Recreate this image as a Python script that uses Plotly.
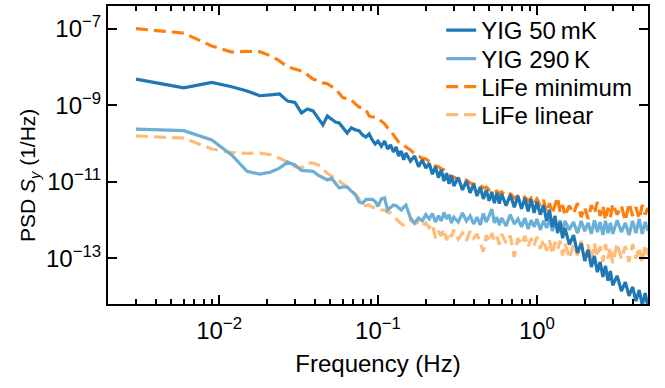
import plotly.graph_objects as go

freq = [0.003, 0.006, 0.009, 0.012, 0.015, 0.018, 0.021, 0.024, 0.027, 0.030,
        0.033, 0.036, 0.039, 0.042, 0.045, 0.048, 0.051, 0.054, 0.057, 0.060,
        0.064, 0.068, 0.072, 0.076, 0.080, 0.084, 0.088, 0.092, 0.096, 0.100,
        0.105, 0.110, 0.115, 0.120, 0.125, 0.130, 0.135, 0.140, 0.145, 0.150,
        0.16, 0.17, 0.18, 0.19, 0.20, 0.21, 0.22, 0.23, 0.24, 0.25, 0.26, 0.27, 0.28, 0.29, 0.30,
        0.32, 0.34, 0.36, 0.38, 0.40, 0.42, 0.44, 0.46, 0.48, 0.50, 0.52, 0.54, 0.56, 0.58, 0.60,
        0.64, 0.68, 0.72, 0.76, 0.80, 0.84, 0.88, 0.92, 0.96, 1.00,
        1.05, 1.10, 1.15, 1.20, 1.25, 1.30, 1.35, 1.40, 1.45, 1.50,
        1.6, 1.7, 1.8, 1.9, 2.0, 2.1, 2.2, 2.3, 2.4, 2.5, 2.6, 2.7, 2.8, 2.9, 3.0,
        3.2, 3.4, 3.6, 3.8, 4.0, 4.2, 4.4, 4.6, 4.8, 5.0]

yig_50mk = [4.9e-9, 2.9e-9, 4.0e-9, 3.1e-9, 2.4e-9, 1.8e-9, 1.9e-9, 2.0e-9, 1.3e-9, 1.2e-9,
            6.4e-10, 8.1e-10, 7.2e-10, 4.7e-10, 3.1e-10, 5.3e-10, 4.4e-10, 3.7e-10, 3.5e-10, 2.6e-10,
            1.9e-10, 2.6e-10, 2.3e-10, 2.2e-10, 1.7e-10, 1.5e-10, 1.8e-10, 1.25e-10, 9.8e-11, 1.18e-10,
            8.6e-11, 1.18e-10, 7.3e-11, 9.3e-11, 6.1e-11, 8.2e-11, 4.8e-11, 6.5e-11, 3.8e-11, 5.7e-11,
            3.5e-11, 4.8e-11, 2.5e-11, 3.8e-11, 2.3e-11, 3.1e-11, 1.6e-11, 2.5e-11, 1.3e-11, 2.1e-11,
            1.06e-11, 1.7e-11, 8.9e-12, 1.5e-11, 7.9e-12, 1.3e-11, 6.2e-12, 1.06e-11, 5.2e-12, 8.9e-12,
            4.3e-12, 7.4e-12, 3.6e-12, 6.2e-12, 3.2e-12, 5.5e-12, 2.8e-12, 5.2e-12, 2.7e-12, 4.9e-12,
            2.4e-12, 4.6e-12, 2.2e-12, 4.3e-12, 2.0e-12, 3.8e-12, 1.7e-12, 3.6e-12, 1.55e-12, 3.0e-12,
            1.4e-12, 2.5e-12, 9.6e-13, 1.85e-12, 6.7e-13, 1.3e-12, 4.6e-13, 9.0e-13, 3.4e-13, 6.3e-13,
            2.3e-13, 4.1e-13, 1.4e-13, 2.5e-13, 8.6e-14, 1.7e-13, 6.0e-14, 1.16e-13, 4.4e-14, 8.1e-14,
            3.3e-14, 6.4e-14, 2.6e-14, 4.7e-14, 2.0e-14, 3.5e-14, 1.4e-14, 2.4e-14, 1.05e-14, 1.8e-14,
            7.7e-15, 1.5e-14, 6.1e-15, 1.25e-14, 5.1e-15]

yig_290k = [2.4e-10, 2.2e-10, 1.25e-10, 5.1e-11, 1.9e-11, 1.6e-11, 1.8e-11, 2.3e-11, 3.3e-11, 2.8e-11,
            2.0e-11, 1.9e-11, 1.9e-11, 1.5e-11, 1.3e-11, 1.13e-11, 1.25e-11, 9.4e-12, 7.0e-12, 7.4e-12,
            7.4e-12, 5.8e-12, 4.6e-12, 3.0e-12, 2.8e-12, 3.5e-12, 3.5e-12, 3.5e-12, 3.1e-12, 2.3e-12,
            3.6e-12, 3.8e-12, 1.85e-12, 2.2e-12, 2.5e-12, 2.4e-12, 2.1e-12, 1.85e-12, 2.2e-12, 2.5e-12,
            1.14e-12, 8.5e-13, 1.14e-12, 9.6e-13, 1.4e-12, 1.08e-12, 1.5e-12, 9.0e-13, 1.3e-12, 9.6e-13,
            1.6e-12, 1.08e-12, 1.4e-12, 8.5e-13, 1.2e-12, 9.0e-13, 1.55e-12, 9.6e-13, 1.3e-12, 8.0e-13,
            1.2e-12, 7.5e-13, 1.5e-12, 9.0e-13, 1.3e-12, 1.97e-12, 8.5e-13, 1.2e-12, 7.5e-13, 1.14e-12,
            7.1e-13, 1.4e-12, 8.0e-13, 1.08e-12, 6.7e-13, 1.14e-12, 5.9e-13, 1.0e-12, 6.7e-13, 1.08e-12,
            5.6e-13, 9.6e-13, 6.3e-13, 1.08e-12, 5.2e-13, 9.0e-13, 5.9e-13, 1.0e-12, 4.9e-13, 9.6e-13,
            5.6e-13, 9.0e-13, 4.6e-13, 9.6e-13, 5.2e-13, 8.5e-13, 4.4e-13, 1.0e-12, 4.9e-13, 9.0e-13,
            4.1e-13, 9.6e-13, 4.6e-13, 8.5e-13, 4.4e-13, 1.0e-12, 4.9e-13, 8.5e-13, 4.1e-13, 9.6e-13,
            4.6e-13, 1.08e-12, 4.4e-13, 9.0e-13, 5.2e-13]

life_min = [1.02e-7, 7.8e-8, 3.6e-8, 2.5e-8, 2.6e-8, 2.55e-8, 2.0e-8, 1.46e-8, 1.02e-8, 9.0e-9,
            8.0e-9, 6.3e-9, 4.9e-9, 4.4e-9, 3.9e-9, 3.7e-9, 3.2e-9, 2.7e-9, 2.1e-9, 1.6e-9,
            1.5e-9, 1.4e-9, 1.1e-9, 9.1e-10, 8.6e-10, 7.6e-10, 5.3e-10, 5.0e-10, 5.0e-10, 4.7e-10,
            3.9e-10, 3.3e-10, 2.6e-10, 2.2e-10, 1.7e-10, 1.3e-10, 1.1e-10, 9.8e-11, 9.3e-11, 8.2e-11,
            6.9e-11, 5.4e-11, 4.8e-11, 4.2e-11, 4.0e-11, 3.5e-11, 3.0e-11, 2.6e-11, 2.5e-11, 2.2e-11,
            2.1e-11, 1.8e-11, 1.5e-11, 1.35e-11, 1.35e-11, 1.13e-11, 1.06e-11, 1.13e-11, 9.4e-12, 8.9e-12,
            7.9e-12, 8.3e-12, 7.0e-12, 7.4e-12, 6.2e-12, 6.6e-12, 5.5e-12, 5.8e-12, 4.9e-12, 5.5e-12,
            4.3e-12, 4.9e-12, 3.8e-12, 4.3e-12, 3.6e-12, 4.05e-12, 3.2e-12, 3.8e-12, 2.8e-12, 3.6e-12,
            2.4e-12, 3.4e-12, 1.6e-12, 2.8e-12, 1.5e-12, 2.7e-12, 4.0e-12, 1.55e-12, 2.5e-12, 1.3e-12,
            2.4e-12, 1.5e-12, 2.8e-12, 1.2e-12, 2.2e-12, 1.08e-12, 2.5e-12, 1.5e-12, 3.0e-12, 1.3e-12,
            2.4e-12, 1.0e-12, 2.1e-12, 1.2e-12, 2.7e-12, 1.4e-12, 2.4e-12, 9.6e-13, 2.8e-12, 1.3e-12,
            2.2e-12, 1.08e-12, 2.5e-12, 1.4e-12, 2.1e-12]

life_lin = [1.6e-10, 1.4e-10, 7.3e-11, 5.9e-11, 5.6e-11, 5.7e-11, 5.2e-11, 4.2e-11, 3.3e-11, 2.5e-11,
            2.3e-11, 3.1e-11, 3.1e-11, 2.8e-11, 2.1e-11, 1.7e-11, 1.4e-11, 1.3e-11, 1.06e-11, 8.9e-12,
            7.4e-12, 5.8e-12, 4.9e-12, 3.6e-12, 2.5e-12, 2.4e-12, 2.5e-12, 2.2e-12, 2.1e-12, 2.1e-12,
            1.85e-12, 1.85e-12, 1.6e-12, 1.55e-12, 1.3e-12, 1.08e-12, 9.6e-13, 8.0e-13, 7.5e-13, 9.0e-13,
            1.0e-12, 8.0e-13, 9.0e-13, 7.1e-13, 8.5e-13, 6.3e-13, 8.0e-13, 3.4e-13, 5.2e-13, 3.9e-13,
            5.9e-13, 3.0e-13, 4.9e-13, 3.7e-13, 5.6e-13, 3.2e-13, 4.6e-13, 2.9e-13, 5.2e-13, 3.4e-13,
            4.4e-13, 2.4e-13, 1.5e-13, 4.1e-13, 2.7e-13, 4.6e-13, 3.0e-13, 3.9e-13, 2.3e-13, 4.4e-13,
            2.5e-13, 3.9e-13, 1.1e-13, 3.4e-13, 2.3e-13, 3.9e-13, 2.0e-13, 3.4e-13, 2.1e-13, 3.7e-13,
            1.8e-13, 3.2e-13, 1.6e-13, 3.0e-13, 1.3e-13, 2.7e-13, 1.7e-13, 2.9e-13, 1.2e-13, 2.5e-13,
            1.0e-13, 2.4e-13, 1.2e-13, 2.9e-13, 9.7e-14, 2.3e-13, 8.6e-14, 2.5e-13, 1.1e-13, 2.1e-13,
            8.1e-14, 2.4e-13, 1.0e-13, 2.0e-13, 7.6e-14, 2.5e-13, 9.7e-14, 2.1e-13, 8.1e-14, 2.4e-13,
            1.0e-13, 2.0e-13, 7.6e-14, 2.3e-13, 1.2e-13]

x_major = [0.01, 0.1, 1]
x_major_text = ["10<sup>\u22122</sup>", "10<sup>\u22121</sup>", "10<sup>0</sup>"]
x_minor = [0.002, 0.003, 0.004, 0.005, 0.006, 0.007, 0.008, 0.009,
           0.02, 0.03, 0.04, 0.05, 0.06, 0.07, 0.08, 0.09,
           0.2, 0.3, 0.4, 0.5, 0.6, 0.7, 0.8, 0.9, 2, 3, 4, 5]
y_major = [1e-7, 1e-9, 1e-11, 1e-13]
y_major_text = ["10<sup>\u22127</sup>", "10<sup>\u22129</sup>", "10<sup>\u221211</sup>", "10<sup>\u221213</sup>"]

FONT = "Liberation Sans, Arial, sans-serif"
FS = 24

fig = go.Figure()
# (name, values, colour, dash, legend id, legend centre y in paper units)
series = [
    ("LiFe minimum", life_min, "#ff7f0e", "12px,6px", "legend3", 0.728),
    ("LiFe linear", life_lin, "#ffbb78", "12px,6px", "legend4", 0.634),
    ("YIG 290\u2009K", yig_290k, "#6baed6", "solid", "legend2", 0.822),
    ("YIG 50\u2009mK", yig_50mk, "#1f77b4", "solid", "legend", 0.918),
]
legends = {}
for name, vals, col, dash, leg, ly in series:
    fig.add_trace(go.Scatter(x=freq, y=vals, mode="lines", name=name, legend=leg,
                             line=dict(color=col, width=3.2, dash=dash)))
    legends[leg] = dict(x=0.617, y=ly, xanchor="left", yanchor="middle",
                        bgcolor="rgba(0,0,0,0)", borderwidth=0, itemwidth=30,
                        font=dict(family=FONT, size=FS, color="black"))

axis_common = dict(showline=True, linecolor="black", linewidth=2, mirror="ticks",
                   ticks="inside", ticklen=9, tickwidth=2, tickcolor="black",
                   showgrid=False, zeroline=False,
                   tickfont=dict(family=FONT, size=FS, color="black"))

fig.update_xaxes(type="log", range=[-2.69897, 0.69897], tickmode="array",
                 tickvals=x_major, ticktext=x_major_text, ticklabelstandoff=4,
                 minor=dict(tickmode="array", tickvals=x_minor, ticks="inside",
                            ticklen=5, tickwidth=1.5, tickcolor="black", showgrid=False),
                 title=dict(text="Frequency (Hz)", font=dict(family=FONT, size=FS, color="black"),
                            standoff=12),
                 **axis_common)
fig.update_yaxes(type="log", range=[-14.19, -6.399], tickmode="array",
                 tickvals=y_major, ticktext=y_major_text,
                 **axis_common)

fig.add_annotation(text="PSD <i>S<sub>y</sub></i> (1/Hz)", textangle=-90,
                   xref="paper", yref="paper", x=-0.146, y=0.43,
                   xanchor="center", yanchor="middle", showarrow=False,
                   font=dict(family=FONT, size=21, color="black"))

fig.update_layout(
    width=665, height=388,
    margin=dict(l=108, r=17, t=6, b=84, autoexpand=False),
    paper_bgcolor="white", plot_bgcolor="white",
    font=dict(family=FONT, size=FS, color="black"),
    showlegend=True,
    **legends,
)

fig.write_html("out.html")
